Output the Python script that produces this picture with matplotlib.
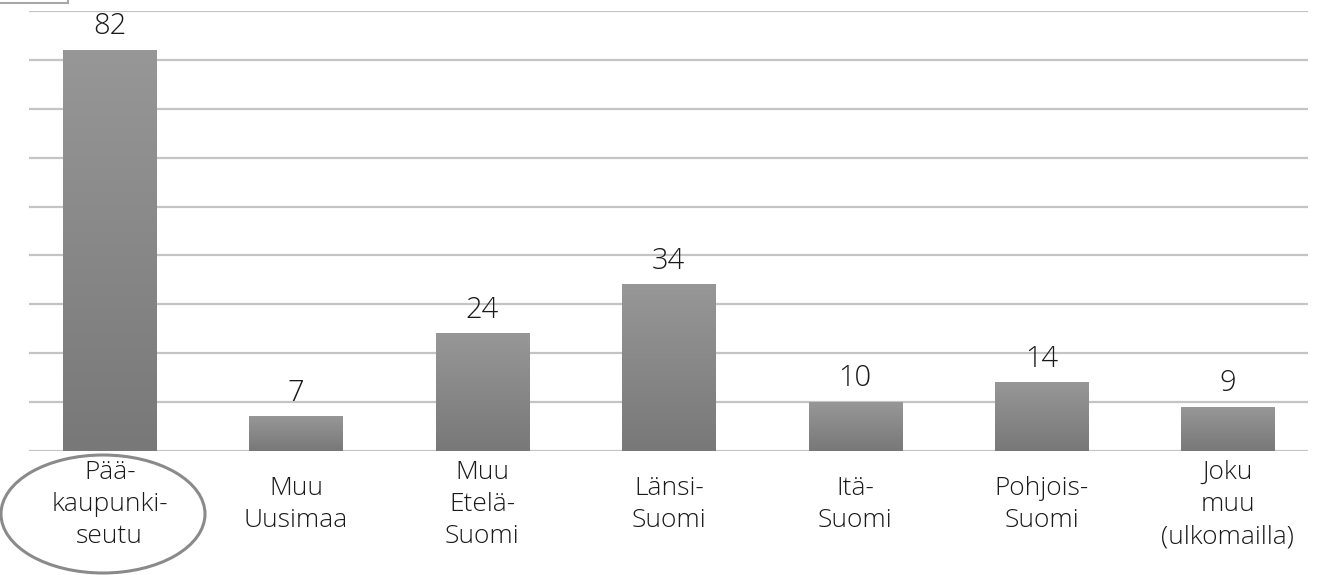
import numpy as np
import matplotlib.pyplot as plt
from matplotlib.patches import Ellipse, Rectangle

# Respondents by region
categories = [
    "Pää-\nkaupunki-\nseutu",
    "Muu\nUusimaa",
    "Muu\nEtelä-\nSuomi",
    "Länsi-\nSuomi",
    "Itä-\nSuomi",
    "Pohjois-\nSuomi",
    "Joku\nmuu\n(ulkomailla)",
]
values = [82, 7, 24, 34, 10, 14, 9]

plt.rcParams["font.family"] = ["Open Sans", "DejaVu Sans"]

W, H = 1317, 575
fig = plt.figure(figsize=(W / 100, H / 100), dpi=100)
ax = fig.add_axes([29 / W, (H - 451) / H, (1308 - 29) / W, (451 - 11) / H])

x = np.arange(len(values))
bar_w = 0.5

# vertical gradient, light at the top and darker at the base of each bar
grad = np.linspace(0, 1, 256).reshape(-1, 1)
cmap = plt.matplotlib.colors.LinearSegmentedColormap.from_list(
    "bar", ["#787878", "#979797"])

for xi, v in zip(x, values):
    ax.imshow(grad, cmap=cmap, origin="lower", aspect="auto",
              extent=[xi - bar_w / 2, xi + bar_w / 2, 0, v], zorder=3)
    ax.text(xi, v + 1.8, str(v), ha="center", va="bottom",
            fontsize=21, fontweight="light", color="#1a1a1a")

ax.set_xlim(-0.433, 6.43)
ax.set_ylim(0, 90)
ax.set_yticks(np.arange(0, 91, 10))
ax.yaxis.grid(True, color="#c4c4c4", linewidth=1.6)
ax.set_axisbelow(True)
ax.tick_params(axis="both", length=0, labelleft=False, labelbottom=False)
for s in ax.spines.values():
    s.set_visible(False)

# category labels, centred vertically below the plot
for xi, lab in zip(x, categories):
    ax.text(xi, -10.9, lab, ha="center", va="center", fontsize=19,
            fontweight="light", linespacing=1.38, color="#1a1a1a",
            clip_on=False)

# highlight the capital region
fig.patches.append(Ellipse((103 / W, (H - 514) / H), 204 / W, 118 / H,
                           transform=fig.transFigure, fill=False,
                           edgecolor="#8a8a8a", linewidth=2.2))

# small box in the corner
fig.patches.append(Rectangle((-5 / W, (H - 3) / H), 73 / W, 10 / H,
                             transform=fig.transFigure, facecolor="white",
                             edgecolor="#a8a8a8", linewidth=1.5))

fig.savefig("out.png", dpi=100)
